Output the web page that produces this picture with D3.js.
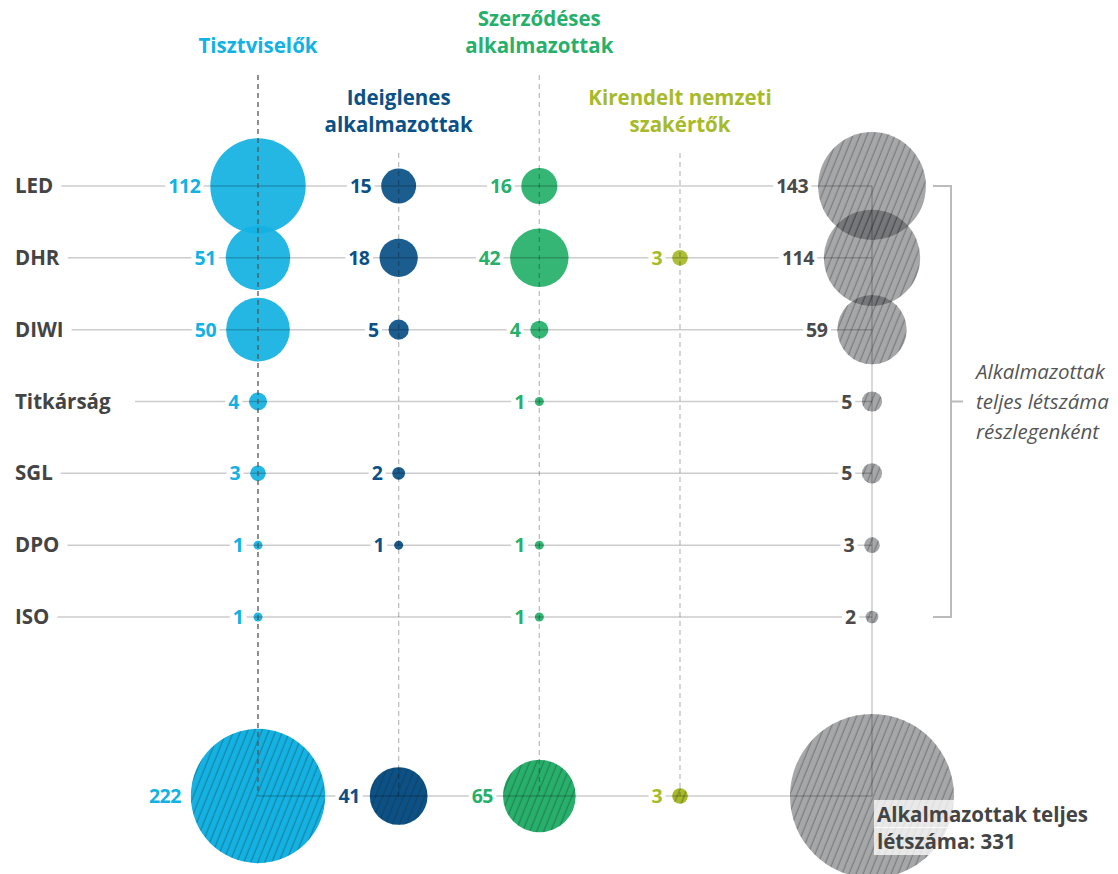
<!DOCTYPE html>
<html>
<head>
<meta charset="utf-8">
<script src="https://cdn.jsdelivr.net/npm/d3@7"></script>
<style>
  body { margin: 0; background: #fff; }
  text { font-family: "Open Sans", sans-serif; }
</style>
</head>
<body>
<div id="chart"></div>
<script>
// departments (rows) and staff categories (columns)
var departments = ["LED", "DHR", "DIWI", "Titkárság", "SGL", "DPO", "ISO"];
var staffTypes = ["Tisztviselők", "Ideiglenes alkalmazottak", "Szerződéses alkalmazottak", "Kirendelt nemzeti szakértők"];
var headerLines = [["Tisztviselők"], ["Ideiglenes", "alkalmazottak"], ["Szerződéses", "alkalmazottak"], ["Kirendelt nemzeti", "szakértők"]];

// headcount per department, one array per staff category
var tisztviselok = [112, 51, 50, 4, 3, 1, 1];
var ideiglenes = [15, 18, 5, 0, 2, 1, 0];
var szerzodeses = [16, 42, 4, 1, 0, 1, 1];
var kirendelt = [0, 3, 0, 0, 0, 0, 0];

var bracketNote = ["Alkalmazottak", "teljes létszáma", "részlegenként"];
var grandNote = ["Alkalmazottak teljes", "létszáma: "];

var series = [tisztviselok, ideiglenes, szerzodeses, kirendelt];
var colors = ["#13b2e2", "#0b5186", "#27b06b", "#a7ba2a"];
var totalColor = "#4a4a4a";

var deptTotals = departments.map(function(d, i) {
    return d3.sum(series, function(s) { return s[i]; });
});
var typeTotals = series.map(function(s) { return d3.sum(s); });
var grandTotal = d3.sum(deptTotals);

var width = 1118, height = 874;
var svg = d3.select("#chart").append("svg")
    .attr("width", width)
    .attr("height", height);

var x = d3.scalePoint().domain(staffTypes).range([258, 680]);
var xTotal = 872;
var y = d3.scalePoint().domain(departments).range([186, 617]);
var yTotal = 796;
var r = d3.scaleSqrt().domain([0, grandTotal]).range([0, 82]);

// hatch pattern for totals
var defs = svg.append("defs");
defs.append("pattern")
    .attr("id", "hatch")
    .attr("patternUnits", "userSpaceOnUse")
    .attr("width", 6.5)
    .attr("height", 6.5)
    .attr("patternTransform", "rotate(22)")
    .append("line")
    .attr("x1", 3).attr("y1", 0)
    .attr("x2", 3).attr("y2", 6.5)
    .attr("stroke", "#222")
    .attr("stroke-opacity", 0.45)
    .attr("stroke-width", 0.9);

var gCircles = svg.append("g");
var gLines = svg.append("g");
var gLabels = svg.append("g");

// department circles
series.forEach(function(s, j) {
    departments.forEach(function(d, i) {
        if (!s[i]) return;
        gCircles.append("circle")
            .attr("cx", x(staffTypes[j]))
            .attr("cy", y(d))
            .attr("r", r(s[i]))
            .attr("fill", colors[j])
            .attr("fill-opacity", 0.93);
    });
});

// department totals (gray, hatched)
departments.forEach(function(d, i) {
    gCircles.append("circle")
        .attr("cx", xTotal).attr("cy", y(d))
        .attr("r", r(deptTotals[i]))
        .attr("fill", "#3c3f43")
        .attr("fill-opacity", 0.46);
    gCircles.append("circle")
        .attr("cx", xTotal).attr("cy", y(d))
        .attr("r", r(deptTotals[i]))
        .attr("fill", "url(#hatch)");
});

// column totals row
typeTotals.forEach(function(v, j) {
    gCircles.append("circle")
        .attr("cx", x(staffTypes[j])).attr("cy", yTotal)
        .attr("r", r(v))
        .attr("fill", colors[j]);
    gCircles.append("circle")
        .attr("cx", x(staffTypes[j])).attr("cy", yTotal)
        .attr("r", r(v))
        .attr("fill", "url(#hatch)");
});
gCircles.append("circle")
    .attr("cx", xTotal).attr("cy", yTotal)
    .attr("r", r(grandTotal))
    .attr("fill", "#3c3f43")
    .attr("fill-opacity", 0.46);
gCircles.append("circle")
    .attr("cx", xTotal).attr("cy", yTotal)
    .attr("r", r(grandTotal))
    .attr("fill", "url(#hatch)");

// row labels
var rowLabels = gLabels.selectAll(".rowlabel")
    .data(departments)
    .enter().append("text")
    .attr("class", "rowlabel")
    .attr("x", 15)
    .attr("y", function(d) { return y(d) + 7; })
    .attr("fill", "#444")
    .attr("font-size", 20.5)
    .attr("font-weight", 700)
    .text(function(d) { return d; });

// row lines
rowLabels.each(function(d) {
    var bb = this.getBBox();
    var gap = d === "Titkárság" ? 24 : 8;
    gLines.append("line")
        .attr("x1", bb.x + bb.width + gap).attr("x2", xTotal)
        .attr("y1", y(d)).attr("y2", y(d))
        .attr("stroke", "#000")
        .attr("stroke-opacity", 0.2)
        .attr("stroke-width", 1.5);
});

// totals row + total column line
gLines.append("line")
    .attr("x1", x(staffTypes[0])).attr("x2", xTotal)
    .attr("y1", yTotal).attr("y2", yTotal)
    .attr("stroke", "#000").attr("stroke-opacity", 0.2).attr("stroke-width", 1.5);
gLines.append("line")
    .attr("x1", xTotal).attr("x2", xTotal)
    .attr("y1", y(departments[0])).attr("y2", yTotal)
    .attr("stroke", "#000").attr("stroke-opacity", 0.2).attr("stroke-width", 1.5);

// column headers and dashed guides
staffTypes.forEach(function(t, j) {
    var top = j % 2 === 0;
    var lines = headerLines[j];
    var baseY = top ? (lines.length === 1 ? 53 : 26) : 105;
    lines.forEach(function(l, k) {
        gLabels.append("text")
            .attr("x", x(t))
            .attr("y", baseY + k * 27)
            .attr("text-anchor", "middle")
            .attr("fill", colors[j])
            .attr("font-size", 20.5)
            .attr("font-weight", 700)
            .text(l);
    });
    gLines.append("line")
        .attr("x1", x(t)).attr("x2", x(t))
        .attr("y1", top ? 75 : 153).attr("y2", yTotal)
        .attr("stroke", j === 0 ? "#555" : "#000")
        .attr("stroke-opacity", j === 0 ? 1 : 0.25)
        .attr("stroke-width", 1.3)
        .attr("stroke-dasharray", "5,4");
});

// value label with white box that breaks the line
function valueLabel(cx, cy, rad, value, color) {
    var g = gLabels.append("g");
    var rect = g.append("rect").attr("fill", "#fff");
    var t = g.append("text")
        .attr("x", cx - rad - 10)
        .attr("y", cy + 7)
        .attr("text-anchor", "end")
        .attr("fill", color)
        .attr("font-size", 19.5)
        .attr("font-weight", 700)
        .attr("letter-spacing", -0.5)
        .text(value);
    var bb = t.node().getBBox();
    rect.attr("x", bb.x - 3).attr("y", cy - 5)
        .attr("width", bb.width + 6).attr("height", 10);
}

series.forEach(function(s, j) {
    departments.forEach(function(d, i) {
        if (!s[i]) return;
        valueLabel(x(staffTypes[j]), y(d), r(s[i]), s[i], colors[j]);
    });
    valueLabel(x(staffTypes[j]), yTotal, r(typeTotals[j]), typeTotals[j], colors[j]);
});
departments.forEach(function(d, i) {
    valueLabel(xTotal, y(d), r(deptTotals[i]), deptTotals[i], totalColor);
});

// bracket on the right
var yTop = y(departments[0]), yBot = y(departments[departments.length - 1]);
svg.append("path")
    .attr("d", "M933," + yTop + "H951V" + yBot + "H933M951," + y("Titkárság") + "H963")
    .attr("fill", "none")
    .attr("stroke", "#bbb")
    .attr("stroke-width", 2);
bracketNote.forEach(function(l, k) {
    svg.append("text")
        .attr("x", 976)
        .attr("y", y("Titkárság") + 7 + (k - 1) * 30)
        .attr("fill", "#555")
        .attr("font-size", 20.5)
        .attr("font-style", "italic")
        .text(l);
});

// grand total note
grandNote.forEach(function(l, k) {
    var g = svg.append("g");
    var rect = g.append("rect").attr("fill", "#fff").attr("fill-opacity", 0.75);
    var t = g.append("text")
        .attr("x", 877)
        .attr("y", 822 + k * 27)
        .attr("fill", "#444")
        .attr("font-size", 20.5)
        .attr("font-weight", 700)
        .text(k === 1 ? l + grandTotal : l);
    var bb = t.node().getBBox();
    rect.attr("x", bb.x - 3).attr("y", bb.y)
        .attr("width", bb.width + 6).attr("height", bb.height);
});
</script>
</body>
</html>
